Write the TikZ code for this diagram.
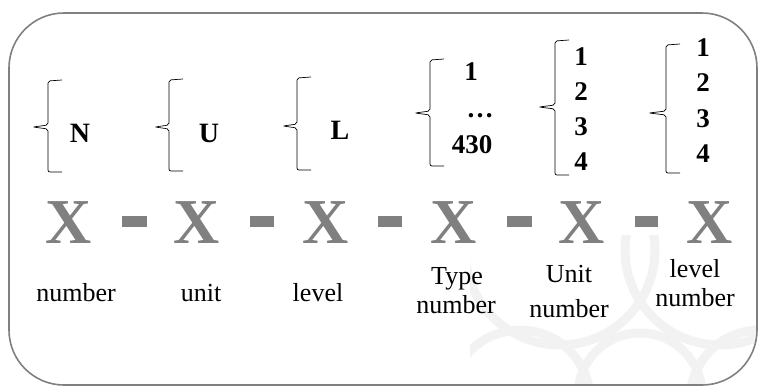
\documentclass[tikz,border=0pt]{standalone}
\usepackage{fontspec}
\setmainfont{Liberation Serif}
\begin{document}
\begin{tikzpicture}[x=1pt,y=-1pt,
  frame/.style={draw=black!50, line width=1.6pt, rounded corners=55pt},
  brace/.style={draw=black, line width=0.7pt, rounded corners=2pt},
  bnum/.style={anchor=base, inner sep=0pt, font=\fontsize{27}{27}\selectfont\bfseries},
  blet/.style={anchor=base, inner sep=0pt, font=\fontsize{28}{28}\selectfont\bfseries},
  bigx/.style={anchor=base, inner sep=0pt, text=black!50, font=\fontsize{64}{64}\selectfont\bfseries},
  dashbar/.style={fill=black!50, draw=none},
  lbl/.style={anchor=base, inner sep=0pt, font=\fontsize{26}{26}\selectfont},
  wm/.style={draw=black!5, line width=9pt}
]
\useasboundingbox (0,0) rectangle (758,386);
% watermark
\begin{scope}
  \clip (470,235) rectangle (756,384);
  \draw[wm] (560,250) circle (95);
  \draw[wm] (720,250) circle (95);
  \draw[wm] (640,395) circle (62);
  \draw[wm] (520,400) circle (70);
  \draw[wm] (760,400) circle (70);
\end{scope}
% frame
\path[frame] (9,13) rectangle (757,385);
% braces
\newcommand{\mybrace}[5]{% tipx, vertx, top, bottom, midy
  \path[brace] (#2+14,#3-1) -- (#2,#3) -- (#2,#5-2) -- (#1,#5) -- (#2,#5+2) -- (#2,#4) -- (#2+14,#4);}
\mybrace{33}{48}{81}{172}{127}
\mybrace{155}{169}{80}{171}{127}
\mybrace{283}{297}{78}{170}{126}
\mybrace{415}{430}{60}{166}{113}
\mybrace{539}{555}{41}{175}{107}
\mybrace{649}{666}{45}{173}{113}
% bold values
\node[blet] (n) at (80,142) {N};
\node[blet] (u) at (209,142) {U};
\node[blet] (l) at (340,139) {L};
\node[bnum] (t1) at (471,80) {1};
\node[bnum] (tdots) at (480,117) {\dots};
\node[bnum] (t430) at (472,153) {430};
\node[bnum] (u1) at (581,65) {1};
\node[bnum] (u2) at (581,100) {2};
\node[bnum] (u3) at (581,135) {3};
\node[bnum] (u4) at (581,170) {4};
\node[bnum] (v1) at (703,56) {1};
\node[bnum] (v2) at (703,91) {2};
\node[bnum] (v3) at (703,127) {3};
\node[bnum] (v4) at (703,162) {4};
% X letters
\node[bigx] (x1) at (69,243) {X};
\node[bigx] (x2) at (197,243) {X};
\node[bigx] (x3) at (326,243) {X};
\node[bigx] (x4) at (454,243) {X};
\node[bigx] (x5) at (582,243) {X};
\node[bigx] (x6) at (710,243) {X};
% dashes
\path[dashbar] (122,216) rectangle (147,227);
\path[dashbar] (250,216) rectangle (274,227);
\path[dashbar] (378,216) rectangle (402,227);
\path[dashbar] (507,216) rectangle (532,227);
\path[dashbar] (635,216) rectangle (658,227);
% labels
\node[lbl] (l1) at (76,301) {number};
\node[lbl] (l2) at (201,301) {unit};
\node[lbl] (l3) at (318,301) {level};
\node[lbl] (l4a) at (457,284) {Type};
\node[lbl] (l4b) at (456,313) {number};
\node[lbl] (l5a) at (569,282) {Unit};
\node[lbl] (l5b) at (569,317) {number};
\node[lbl] (l6a) at (695,277) {level};
\node[lbl] (l6b) at (695,306) {number};
\end{tikzpicture}
\end{document}
